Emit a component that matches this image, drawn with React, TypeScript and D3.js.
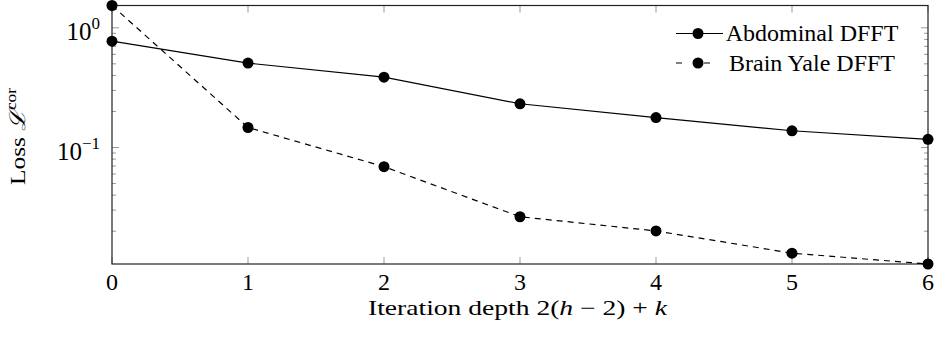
import React, { useEffect, useRef } from 'react';
import * as d3 from 'd3';

const depths = [0, 1, 2, 3, 4, 5, 6];
const abdominal = [0.774, 0.507, 0.387, 0.232, 0.178, 0.138, 0.117];
const brainYale = [1.536, 0.147, 0.0692, 0.0264, 0.0201, 0.0131, 0.01064];
const seriesNames = ['Abdominal DFFT', 'Brain Yale DFFT'];
const yMajorTicks = [1, 0.1];
const yMajorLabels = ['0', '−1'];

const App: React.FC = () => {
  const svgRef = useRef<SVGSVGElement>(null);

  useEffect(() => {
    if (!svgRef.current) return;
    d3.select(svgRef.current).selectAll('*').remove();

    const width = 937;
    const height = 339;
    const margin = { top: 5.5, right: 9, bottom: 75, left: 112 };
    const serif = '"Liberation Serif", "Times New Roman", serif';

    const svg = d3
      .select(svgRef.current)
      .attr('width', width)
      .attr('height', height)
      .attr('font-family', serif);

    const all = abdominal.concat(brainYale);
    const x = d3
      .scaleLinear()
      .domain([0, 6])
      .range([margin.left, width - margin.right]);
    const y = d3
      .scaleLog()
      .domain([d3.min(all) as number, d3.max(all) as number])
      .range([height - margin.bottom, margin.top]);

    const [x0, x1] = x.range();
    const [y0, y1] = y.range();

    // minor ticks (log)
    const minor: number[] = [];
    [0.01, 0.1, 1].forEach(dec => {
      for (let k = 2; k <= 9; k++) {
        const v = dec * k;
        if (v >= y.domain()[0] && v <= y.domain()[1]) minor.push(v);
      }
    });

    const ticks = svg.append('g').attr('stroke', '#9a9a9a').attr('stroke-width', 1);
    minor.forEach(v => {
      ticks.append('line').attr('x1', x0).attr('x2', x0 + 4).attr('y1', y(v)).attr('y2', y(v));
      ticks.append('line').attr('x1', x1).attr('x2', x1 - 4).attr('y1', y(v)).attr('y2', y(v));
    });
    yMajorTicks.forEach(v => {
      ticks.append('line').attr('x1', x0).attr('x2', x0 + 7).attr('y1', y(v)).attr('y2', y(v));
      ticks.append('line').attr('x1', x1).attr('x2', x1 - 7).attr('y1', y(v)).attr('y2', y(v));
    });
    depths.forEach(d => {
      ticks.append('line').attr('x1', x(d)).attr('x2', x(d)).attr('y1', y0).attr('y2', y0 - 7);
      ticks.append('line').attr('x1', x(d)).attr('x2', x(d)).attr('y1', y1).attr('y2', y1 + 7);
    });

    // frame
    svg
      .append('rect')
      .attr('x', x0)
      .attr('y', y1)
      .attr('width', x1 - x0)
      .attr('height', y0 - y1)
      .attr('fill', 'none')
      .attr('stroke', '#222')
      .attr('stroke-width', 1.2);

    // x tick labels
    svg
      .append('g')
      .selectAll('text')
      .data(depths)
      .enter()
      .append('text')
      .attr('x', d => x(d))
      .attr('y', y0 + 26)
      .attr('text-anchor', 'middle')
      .attr('font-size', 24)
      .text(d => String(d));

    // y tick labels
    const yl = svg
      .append('g')
      .selectAll('text')
      .data(yMajorTicks)
      .enter()
      .append('text')
      .attr('x', x0 - 12)
      .attr('y', d => y(d) + 12)
      .attr('text-anchor', 'end')
      .attr('font-size', 25);
    yl.append('tspan').text('10');
    yl.append('tspan')
      .attr('dy', -11)
      .attr('font-size', 17)
      .text((d, i) => yMajorLabels[i]);

    // axis labels
    const xl = svg
      .append('text')
      .attr('x', 368)
      .attr('y', 315)
      .attr('textLength', 299)
      .attr('lengthAdjust', 'spacingAndGlyphs')
      .attr('font-size', 21);
    xl.append('tspan').text('Iteration depth 2(');
    xl.append('tspan').attr('font-style', 'italic').text('h');
    xl.append('tspan').text(' − 2) + ');
    xl.append('tspan').attr('font-style', 'italic').text('k');

    const ylab = svg
      .append('text')
      .attr('transform', `translate(25, 185) rotate(-90)`)
      .attr('textLength', 97)
      .attr('lengthAdjust', 'spacingAndGlyphs')
      .attr('font-size', 22);
    ylab.append('tspan').text('Loss ');
    ylab.append('tspan').attr('font-style', 'italic').text('ℒ');
    ylab.append('tspan').attr('dy', -9).attr('font-size', 15).text('cor');

    // lines
    const line = d3
      .line<number>()
      .x((d, i) => x(depths[i]))
      .y(d => y(d));

    const series = [abdominal, brainYale];
    series.forEach((vals, si) => {
      svg
        .append('path')
        .datum(vals)
        .attr('d', line)
        .attr('fill', 'none')
        .attr('stroke', '#000')
        .attr('stroke-width', 1.2)
        .attr('stroke-dasharray', si === 1 ? '6,5' : null);
      svg
        .append('g')
        .selectAll('circle')
        .data(vals)
        .enter()
        .append('circle')
        .attr('cx', (d, i) => x(depths[i]))
        .attr('cy', d => y(d))
        .attr('r', 5.5)
        .attr('fill', '#000');
    });

    // legend
    const legend = svg
      .append('g')
      .selectAll('g')
      .data(seriesNames)
      .enter()
      .append('g')
      .attr('transform', (d, i) => `translate(676, ${33.5 + i * 29.5})`);
    legend
      .append('line')
      .attr('x1', 0)
      .attr('x2', 47)
      .attr('stroke', '#000')
      .attr('stroke-width', 1.2)
      .attr('stroke-dasharray', (d, i) => (i === 1 ? '6,22,6,20' : null));
    legend.append('circle').attr('cx', 22).attr('r', 5.5).attr('fill', '#000');
    legend
      .append('text')
      .attr('x', 136)
      .attr('y', 7.5)
      .attr('text-anchor', 'middle')
      .attr('font-size', 24)
      .text(d => d);
  }, []);

  return (
    <div style={{ position: 'absolute', left: 0, top: 0 }}>
      <svg ref={svgRef}></svg>
    </div>
  );
};

export default App;
